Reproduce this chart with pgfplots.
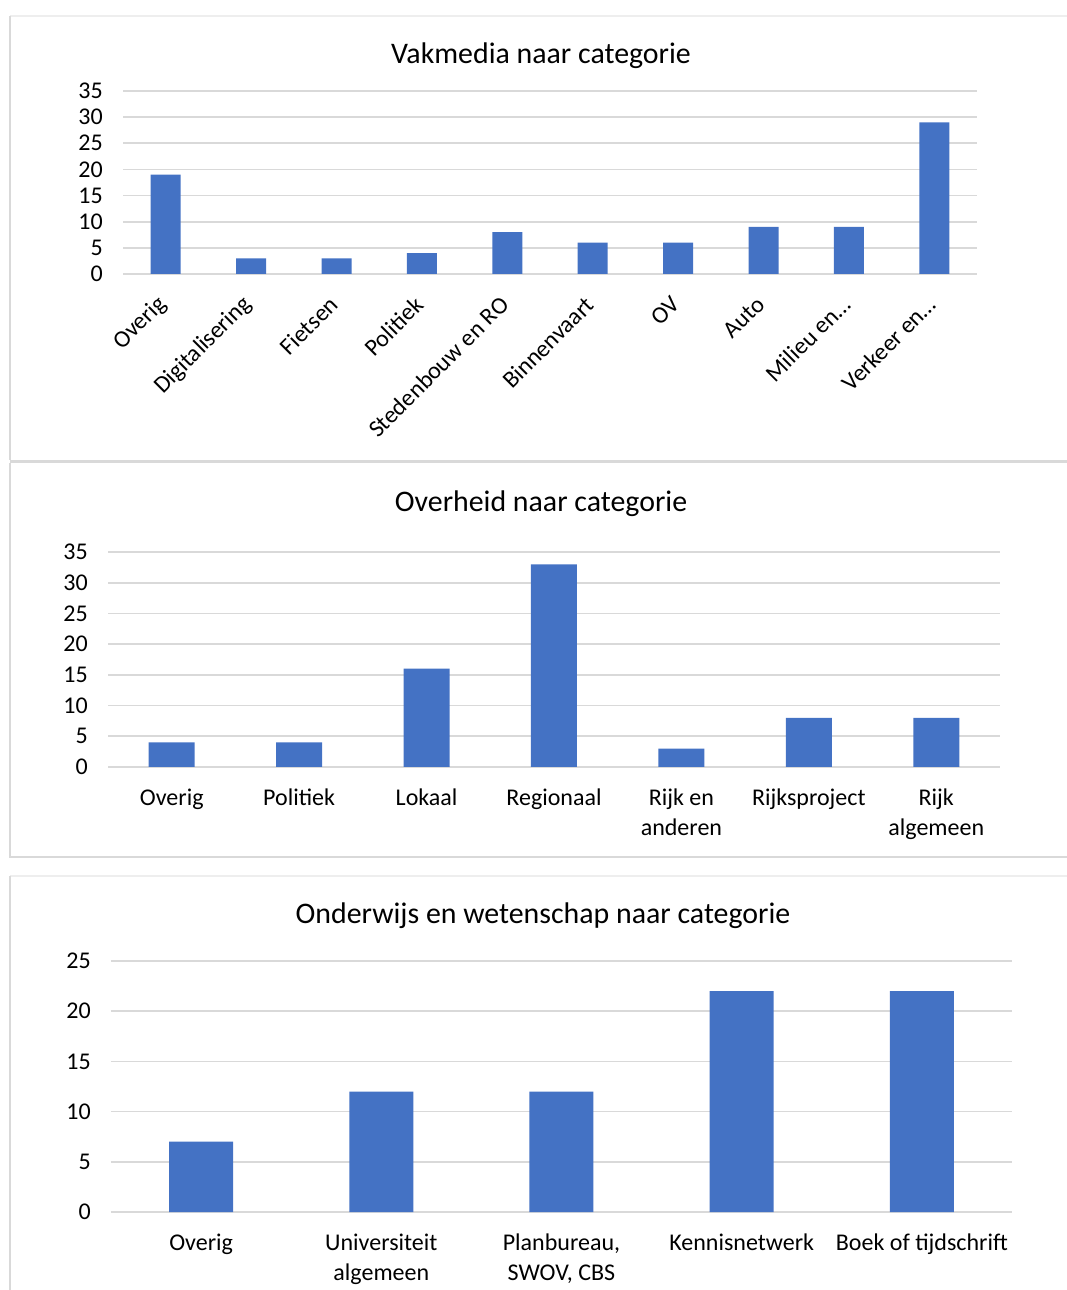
\documentclass[border=0pt]{standalone}
\usepackage{pgfplots}
\pgfplotsset{compat=1.18}
\usepackage{fontspec}
\setmainfont{Carlito}
\definecolor{barblue}{HTML}{4472C4}
\definecolor{gridgray}{HTML}{D9D9D9}
\definecolor{framegray}{HTML}{D9D9D9}
\definecolor{framelight}{HTML}{EEEEEE}

\pgfplotsset{
  excelbar/.style={
    scale only axis,
    anchor=south west,
    ybar,
    ymin=0,
    axis line style={draw=none},
    major tick length=0pt,
    ymajorgrids,
    grid style={gridgray, line width=1.2pt},
    xtick=data,
    /pgf/number format/assume math mode=true,
    tick label style={font=\fontsize{18}{22.5}\selectfont, text=black},
    yticklabel style={anchor=east, inner sep=0pt, xshift=-15pt},
    xticklabel style={inner sep=0pt},
  },
}

\begin{document}
\begin{tikzpicture}
% page = 1067 x 1290 px, 1 px = 0.75 pt
\path[use as bounding box] (0,0) rectangle (800.25pt,967.5pt);

% panel frames
\draw[framelight, line width=0.8pt] (7.5pt,955.5pt) -- (800.25pt,955.5pt);
\draw[framegray, line width=1.5pt] (7.5pt,955.5pt) -- (7.5pt,622.5pt);
\draw[framegray, line width=2.2pt] (7.5pt,621.4pt) -- (800.25pt,621.4pt);
\draw[framegray, line width=1.5pt] (7.5pt,620.3pt) -- (7.5pt,324pt);
\draw[framegray, line width=1.5pt] (7.5pt,324.5pt) -- (800.25pt,324.5pt);
\draw[framelight, line width=0.8pt] (7.5pt,310.5pt) -- (800.25pt,310.5pt);
\draw[framegray, line width=1.5pt] (7.5pt,310.5pt) -- (7.5pt,0pt);

% titles
\node[font=\fontsize{22.4}{26}\selectfont] at (405.75pt,925.5pt) {Vakmedia naar categorie};
\node[font=\fontsize{22.4}{26}\selectfont] at (405.75pt,589.5pt) {Overheid naar categorie};
\node[font=\fontsize{22.4}{26}\selectfont] at (407.25pt,280.5pt) {Onderwijs en wetenschap naar categorie};

% Vakmedia
\begin{axis}[excelbar,
  at={(92.25pt,762pt)},
  width=640.5pt, height=137.25pt,
  xmin=-0.5, xmax=9.5, ymax=35, ytick={0,5,...,35},
  bar width=22.5pt,
  xticklabels={Overig, Digitalisering, Fietsen, Politiek, Stedenbouw en RO, Binnenvaart, OV, Auto, Milieu en…, Verkeer en…},
  xticklabel style={xshift=-2pt, yshift=-20pt, rotate=45, anchor=east},
]
\addplot[fill=barblue, draw=none] coordinates {
  (0,19) (1,3) (2,3) (3,4) (4,8) (5,6) (6,6) (7,9) (8,9) (9,29)
};
\end{axis}

% Overheid
\begin{axis}[excelbar,
  at={(81pt,392.25pt)},
  width=669pt, height=161.25pt,
  xmin=-0.5, xmax=6.5, ymax=35, ytick={0,5,...,35},
  bar width=34.5pt,
  xticklabels={Overig, Politiek, Lokaal, Regionaal, {Rijk en\\anderen}, Rijksproject, {Rijk\\algemeen}},
  xticklabel style={anchor=north, align=center, yshift=-16pt},
]
\addplot[fill=barblue, draw=none] coordinates {
  (0,4) (1,4) (2,16) (3,33) (4,3) (5,8) (6,8)
};
\end{axis}

% Onderwijs en wetenschap
\begin{axis}[excelbar,
  at={(83.25pt,58.5pt)},
  width=675.75pt, height=188.25pt,
  xmin=-0.5, xmax=4.5, ymax=25, ytick={0,5,...,25},
  bar width=48pt,
  xticklabels={Overig, {Universiteit\\algemeen}, {Planbureau,\\SWOV, CBS}, Kennisnetwerk, Boek of tijdschrift},
  xticklabel style={anchor=north, align=center, yshift=-16pt},
]
\addplot[fill=barblue, draw=none] coordinates {
  (0,7) (1,12) (2,12) (3,22) (4,22)
};
\end{axis}
\end{tikzpicture}
\end{document}
